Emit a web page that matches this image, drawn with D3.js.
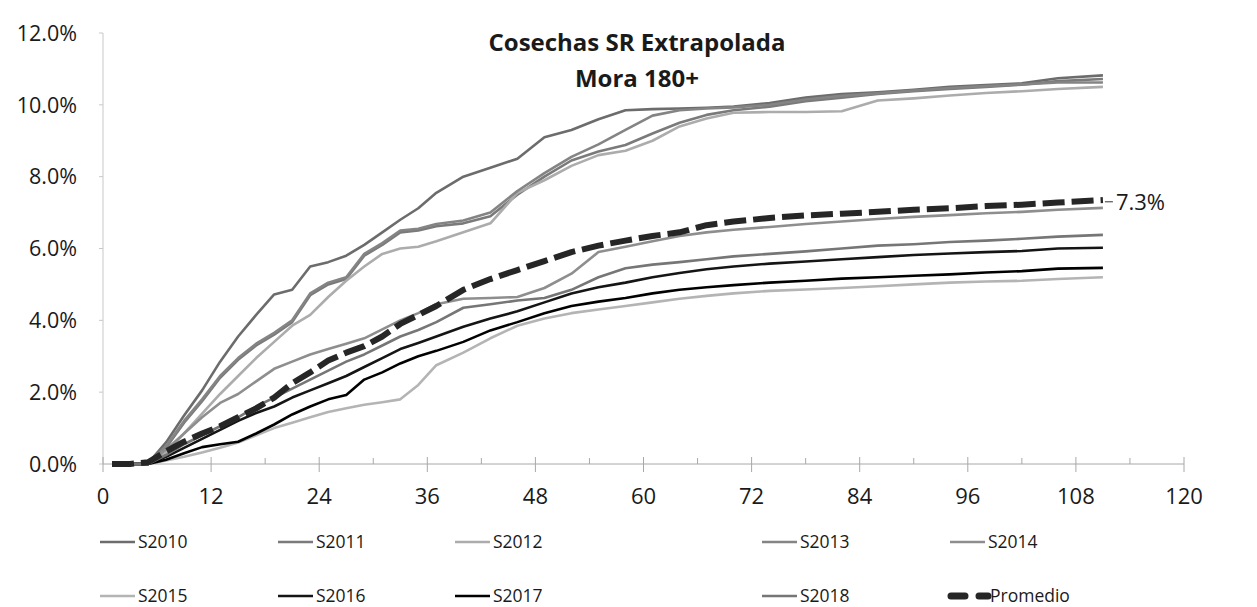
<!DOCTYPE html>
<html lang="es">
<head>
<meta charset="UTF-8">
<title>Cosechas SR Extrapolada</title>
<script src="https://d3js.org/d3.v7.min.js"></script>
<style>
  body { margin: 0; background: #fff; }
  text { font-family: "Open Sans", Lato, sans-serif; fill: #1a1a1a; }
</style>
</head>
<body>
<svg width="1257" height="607"></svg>
<script>
// months on book (x) and cumulative default rate in % (y)
const months = [1, 3, 5, 7, 9, 11, 13, 15, 17, 19, 21, 23, 25, 27, 29, 31, 33, 35, 37, 40,
                43, 46, 49, 52, 55, 58, 61, 64, 67, 70, 74, 78, 82, 86, 90, 94, 98, 102, 106, 111]

const s2010 = [0, 0, 0.02, 0.6, 1.35, 2.05, 2.85, 3.55, 4.15, 4.72, 4.85, 5.5, 5.62, 5.8, 6.1, 6.45, 6.8, 7.12, 7.55, 8.0,
               8.25, 8.5, 9.1, 9.3, 9.6, 9.85, 9.88, 9.9, 9.92, 9.95, 10.05, 10.2, 10.3, 10.35, 10.42, 10.5, 10.55, 10.6, 10.74, 10.82]
const s2011 = [0, 0, 0, 0.45, 1.15, 1.75, 2.4, 2.9, 3.3, 3.6, 3.95, 4.7, 5.0, 5.15, 5.8, 6.1, 6.45, 6.5, 6.62, 6.7,
               6.9, 7.5, 8.0, 8.45, 8.7, 8.88, 9.2, 9.5, 9.72, 9.85, 9.95, 10.1, 10.2, 10.3, 10.38, 10.44, 10.5, 10.56, 10.66, 10.72]
const s2012 = [0, 0, 0, 0.3, 0.85, 1.4, 1.95, 2.45, 2.95, 3.4, 3.85, 4.15, 4.65, 5.1, 5.5, 5.85, 6.0, 6.05, 6.2, 6.45,
               6.7, 7.55, 7.9, 8.3, 8.6, 8.72, 9.0, 9.4, 9.62, 9.78, 9.8, 9.8, 9.82, 10.12, 10.18, 10.26, 10.33, 10.38, 10.44, 10.5]
const s2013 = [0, 0, 0, 0.5, 1.2, 1.8, 2.45, 2.95, 3.35, 3.65, 4.0, 4.75, 5.05, 5.2, 5.85, 6.15, 6.5, 6.55, 6.68, 6.78,
               7.0, 7.6, 8.1, 8.55, 8.9, 9.3, 9.7, 9.85, 9.9, 9.93, 10.0, 10.15, 10.25, 10.32, 10.4, 10.47, 10.52, 10.57, 10.62, 10.62]
const s2014 = [0, 0, 0, 0.4, 0.85, 1.3, 1.7, 1.95, 2.3, 2.65, 2.85, 3.05, 3.2, 3.35, 3.5, 3.75, 4.0, 4.2, 4.45, 4.6,
               4.62, 4.65, 4.9, 5.3, 5.9, 6.05, 6.2, 6.35, 6.45, 6.52, 6.6, 6.68, 6.75, 6.82, 6.88, 6.93, 6.98, 7.02, 7.08, 7.13]
const s2015 = [0, 0, 0, 0.1, 0.2, 0.32, 0.45, 0.6, 0.8, 1.0, 1.15, 1.3, 1.45, 1.55, 1.65, 1.72, 1.8, 2.2, 2.75, 3.1,
               3.5, 3.85, 4.05, 4.2, 4.3, 4.4, 4.5, 4.6, 4.68, 4.75, 4.82, 4.86, 4.9, 4.95, 5.0, 5.05, 5.08, 5.1, 5.15, 5.2]
const s2016 = [0, 0, 0, 0.2, 0.45, 0.7, 0.95, 1.2, 1.42, 1.6, 1.85, 2.05, 2.25, 2.45, 2.7, 2.95, 3.2, 3.37, 3.55, 3.82,
               4.05, 4.25, 4.5, 4.75, 4.92, 5.05, 5.2, 5.32, 5.42, 5.5, 5.58, 5.64, 5.7, 5.76, 5.82, 5.86, 5.9, 5.93, 6.0, 6.02]
const s2017 = [0, 0, 0, 0.12, 0.3, 0.47, 0.55, 0.62, 0.85, 1.1, 1.38, 1.6, 1.8, 1.92, 2.35, 2.55, 2.8, 3.0, 3.15, 3.4,
               3.72, 3.95, 4.2, 4.4, 4.52, 4.62, 4.75, 4.85, 4.92, 4.98, 5.05, 5.1, 5.16, 5.2, 5.24, 5.28, 5.33, 5.37, 5.44, 5.46]
const s2018 = [0, 0, 0, 0.25, 0.55, 0.8, 1.05, 1.3, 1.6, 1.85, 2.1, 2.35, 2.6, 2.85, 3.05, 3.3, 3.55, 3.73, 3.95, 4.35,
               4.45, 4.55, 4.62, 4.85, 5.2, 5.45, 5.55, 5.62, 5.7, 5.78, 5.85, 5.92, 6.0, 6.08, 6.12, 6.18, 6.22, 6.27, 6.33, 6.38]
const promedio = [0, 0, 0.05, 0.35, 0.62, 0.85, 1.05, 1.3, 1.55, 1.85, 2.25, 2.55, 2.88, 3.1, 3.28, 3.55, 3.9, 4.15, 4.4, 4.85,
                  5.15, 5.4, 5.65, 5.9, 6.08, 6.22, 6.35, 6.45, 6.65, 6.75, 6.85, 6.92, 6.97, 7.02, 7.08, 7.12, 7.18, 7.22, 7.28, 7.35]

const seriesNames = ["S2010", "S2011", "S2012", "S2013", "S2014", "S2015", "S2016", "S2017", "S2018", "Promedio"]
const seriesValues = [s2010, s2011, s2012, s2013, s2014, s2015, s2016, s2017, s2018, promedio]
const seriesColors = ["#6c6c6c", "#7a7a7a", "#acacac", "#848484", "#8e8e8e", "#b4b4b4", "#151515", "#000000", "#767676", "#262626"]

const xTicks = [0, 12, 24, 36, 48, 60, 72, 84, 96, 108, 120]
const yTicks = [0, 2, 4, 6, 8, 10, 12]
const endLabel = "7.3%"

const svg = d3.select("svg")
const x = d3.scaleLinear().domain([0, 120]).range([103, 1184])
const y = d3.scaleLinear().domain([0, 12]).range([464, 33])

// title
svg.append("text").attr("x", 637).attr("y", 51).attr("text-anchor", "middle")
   .style("font-size", "24px").style("font-weight", "bold").text("Cosechas SR Extrapolada")
svg.append("text").attr("x", 637).attr("y", 87).attr("text-anchor", "middle")
   .style("font-size", "24px").style("font-weight", "bold").text("Mora 180+")

// y axis
svg.append("line").attr("x1", x(0)).attr("x2", x(0)).attr("y1", y(12)).attr("y2", y(0))
   .attr("stroke", "#c8c8c8")
svg.selectAll(".ytick").data(yTicks).enter().append("line")
   .attr("x1", x(0) - 4).attr("x2", x(0)).attr("y1", d => y(d)).attr("y2", d => y(d))
   .attr("stroke", "#c8c8c8")
svg.selectAll(".ylab").data(yTicks).enter().append("text")
   .attr("x", 77).attr("y", d => y(d)).attr("dy", "0.36em").attr("text-anchor", "end")
   .style("font-size", "21.5px").text(d => d3.format(".1f")(d) + "%")

// x axis
svg.append("line").attr("x1", x(0)).attr("x2", x(120)).attr("y1", y(0)).attr("y2", y(0))
   .attr("stroke", "#a8a8a8")
svg.selectAll(".xtick").data(d3.range(0, 121, 6)).enter().append("line")
   .attr("x1", d => x(d)).attr("x2", d => x(d))
   .attr("y1", d => d % 12 == 0 ? y(0) - 7 : y(0) - 6)
   .attr("y2", d => d % 12 == 0 ? y(0) + 8 : y(0))
   .attr("stroke", "#a8a8a8")
svg.selectAll(".xlab").data(xTicks).enter().append("text")
   .attr("x", d => x(d)).attr("y", 504).attr("text-anchor", "middle")
   .style("font-size", "22px").text(d => d)

// lines
const line = d3.line().x((d, i) => x(months[i])).y(d => y(d))
seriesValues.forEach(function (vals, k) {
    let p = svg.append("path").datum(vals)
        .attr("d", line).attr("fill", "none")
        .attr("stroke", seriesColors[k])
        .attr("stroke-linejoin", "round")
        .attr("stroke-width", k == 9 ? 6 : 2.6)
    if (k == 9) p.attr("stroke-dasharray", "22,7")
})

// end label for average
const last = months.length - 1
svg.append("line").attr("x1", x(months[last]) + 2).attr("x2", x(months[last]) + 10)
   .attr("y1", y(7.3)).attr("y2", y(7.3)).attr("stroke", "#333")
svg.append("text").attr("x", x(months[last]) + 13).attr("y", y(7.3)).attr("dy", "0.36em")
   .style("font-size", "22px").text(endLabel)

// legend
const legX = [100, 278, 455, 762, 950]
const legY = [542, 596]
seriesNames.forEach(function (name, k) {
    let lx = legX[k % 5], ly = legY[Math.floor(k / 5)]
    let g = svg.append("g")
    if (k == 9) {
        g.append("line").attr("x1", lx + 1).attr("x2", lx + 38).attr("y1", ly).attr("y2", ly)
         .attr("stroke", seriesColors[k]).attr("stroke-width", 7)
         .attr("stroke-dasharray", "14,14").attr("stroke-linecap", "round")
        g.append("text").attr("x", lx + 40).attr("y", ly).attr("dy", "0.36em")
         .style("font-size", "17.5px").text(name)
    } else {
        g.append("line").attr("x1", lx).attr("x2", lx + 35).attr("y1", ly).attr("y2", ly)
         .attr("stroke", seriesColors[k]).attr("stroke-width", 2.6)
        g.append("text").attr("x", lx + 38).attr("y", ly).attr("dy", "0.36em")
         .style("font-size", "17.5px").text(name)
    }
})
</script>
</body>
</html>
